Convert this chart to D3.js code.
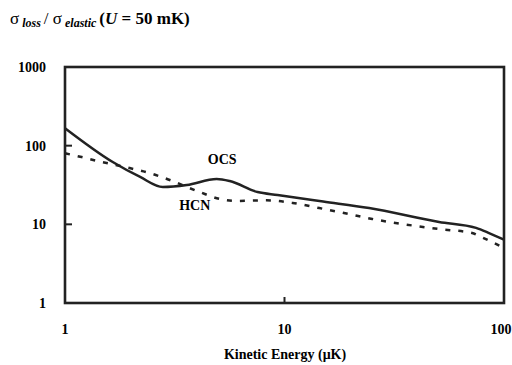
<!DOCTYPE html>
<html>
<head>
<meta charset="utf-8">
<script src="https://cdn.jsdelivr.net/npm/d3@7"></script>
<style>
  body { margin: 0; background: #fff; }
  svg { display: block; }
  text { font-family: "Liberation Serif", "DejaVu Serif", "Times New Roman", serif; }
</style>
</head>
<body>
<div id="chart"></div>
<script>
var energyOCS = [1, 1.65, 2.2, 2.79, 3.59, 4.91, 5.63, 7.54, 9.3, 15, 24.3, 50.6, 74.6, 85.5, 100];
var sigmaOCS = [167, 62, 40, 29.8, 31.6, 37.7, 35.5, 25.7, 23.6, 19.5, 16.1, 10.7, 9.0, 7.75, 6.4];
var energyHCN = [1, 1.19, 1.41, 1.97, 2.43, 3.0, 4.11, 5.07, 6.05, 8.28, 10.9, 14.4, 19.7, 25.1, 34.4, 50.6, 71.6, 77, 90, 100];
var sigmaHCN = [80, 71.6, 63.7, 51.9, 44.9, 36.6, 25.7, 21, 19.8, 20.2, 18.7, 16.1, 13.5, 11.7, 10.1, 8.71, 7.75, 7.1, 5.8, 5.0];
var xTicks = [1, 10, 100];
var yTicks = [1, 10, 100, 1000];

var width = 512, height = 365;
var margin = {left: 65, right: 8, top: 67, bottom: 62};
var w = width - margin.left - margin.right, h = height - margin.top - margin.bottom;

var svg = d3.select("#chart").append("svg").attr("width", width).attr("height", height);
var g = svg.append("g").attr("transform", "translate(" + margin.left + "," + margin.top + ")");

var x = d3.scaleLog().domain([1, 100]).range([0, w]);
var y = d3.scaleLog().domain([1, 1000]).range([h, 0]);

// title
var title = svg.append("text").attr("x", 10).attr("y", 24).style("font-size", "17px").style("font-weight", "bold");
title.append("tspan").style("font-weight", "normal").text("σ");
title.append("tspan").attr("dy", 3).style("font-size", "12px").style("font-style", "italic").text(" loss ");
title.append("tspan").attr("dy", -3).style("font-weight", "normal").text("/ σ");
title.append("tspan").attr("dy", 3).style("font-size", "12px").style("font-style", "italic").text(" elastic ");
title.append("tspan").attr("dy", -3).text("(");
title.append("tspan").style("font-style", "italic").text("U");
title.append("tspan").text(" = 50 mK)");

// ticks (inward)
g.selectAll(".ytick").data(yTicks.slice(1, 3)).enter().append("line")
  .attr("x1", 0).attr("x2", 7).attr("y1", function(d) { return y(d); }).attr("y2", function(d) { return y(d); })
  .attr("stroke", "#222").attr("stroke-width", 2);
g.selectAll(".xtick").data(xTicks.slice(1, 2)).enter().append("line")
  .attr("x1", function(d) { return x(d); }).attr("x2", function(d) { return x(d); }).attr("y1", h).attr("y2", h - 6)
  .attr("stroke", "#222").attr("stroke-width", 2);

g.selectAll(".ylab").data(yTicks).enter().append("text")
  .attr("x", -19).attr("y", function(d) { return y(d) + 5; })
  .attr("text-anchor", "end").style("font-size", "14px").style("font-weight", "bold")
  .text(function(d) { return d; });
g.selectAll(".xlab").data(xTicks).enter().append("text")
  .attr("x", function(d, i) { return x(d) - (i == 2 ? 3 : 0); }).attr("y", h + 31)
  .attr("text-anchor", "middle").style("font-size", "14px").style("font-weight", "bold")
  .text(function(d) { return d; });

svg.append("text").attr("x", 285).attr("y", 359).attr("text-anchor", "middle")
  .style("font-size", "14px").style("font-weight", "bold")
  .text("Kinetic Energy (μK)");

// lines
var line = d3.line().x(function(d) { return x(d[0]); }).y(function(d) { return y(d[1]); }).curve(d3.curveMonotoneX);
g.append("path").datum(d3.zip(energyOCS, sigmaOCS)).attr("d", line)
  .attr("fill", "none").attr("stroke", "#222").attr("stroke-width", 2.5);
g.append("path").datum(d3.zip(energyHCN, sigmaHCN)).attr("d", line)
  .attr("fill", "none").attr("stroke", "#222").attr("stroke-width", 2.5).attr("stroke-dasharray", "5,8");

g.append("text").attr("x", x(5.2)).attr("y", y(40) - 13).attr("text-anchor", "middle")
  .style("font-size", "14px").style("font-weight", "bold").text("OCS");
g.append("text").attr("x", x(3.9)).attr("y", y(17.5) + 5).attr("text-anchor", "middle")
  .style("font-size", "14px").style("font-weight", "bold").text("HCN");

// frame
g.append("rect").attr("width", w).attr("height", h).attr("fill", "none").attr("stroke", "#222").attr("stroke-width", 2.6);
</script>
</body>
</html>
